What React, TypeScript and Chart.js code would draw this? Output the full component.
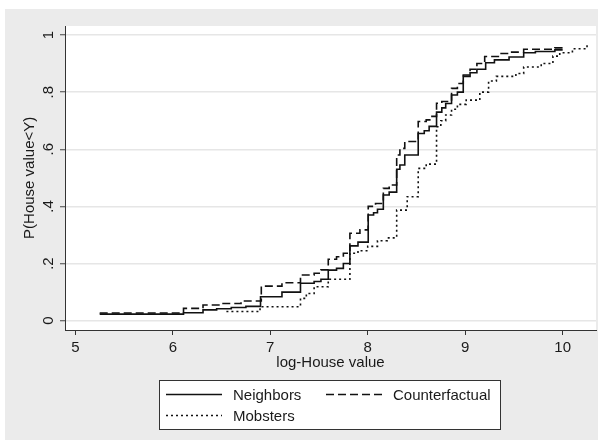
import React, { useEffect, useRef } from "react";
import { Chart, registerables } from "chart.js";

Chart.register(...registerables);

const xTicks = [5, 6, 7, 8, 9, 10];
const xTickLabels = ["5", "6", "7", "8", "9", "10"];
const yTicks = [0, 0.2, 0.4, 0.6, 0.8, 1];
const yTickLabels = ["0", ".2", ".4", ".6", ".8", "1"];
const seriesNames = ["Neighbors", "Counterfactual", "Mobsters"];
const xTitle = "log-House value";
const yTitle = "P(House value<Y)";

const neighborsX = [5.25, 6.11, 6.31, 6.45, 6.6, 6.75, 6.9, 7.12, 7.31, 7.45, 7.52, 7.595, 7.68, 7.75, 7.817, 7.9, 8.005, 8.06, 8.1, 8.16, 8.22, 8.297, 8.33, 8.38, 8.518, 8.58, 8.63, 8.706, 8.76, 8.8, 8.86, 8.92, 8.98, 9.05, 9.12, 9.21, 9.3, 9.45, 9.6, 9.72, 9.92, 10.0];
const neighborsY = [0.023, 0.028, 0.038, 0.042, 0.046, 0.05, 0.084, 0.1, 0.131, 0.137, 0.145, 0.177, 0.183, 0.2, 0.262, 0.275, 0.37, 0.378, 0.39, 0.44, 0.45, 0.53, 0.545, 0.58, 0.655, 0.665, 0.68, 0.73, 0.745, 0.76, 0.79, 0.8, 0.855, 0.868, 0.88, 0.903, 0.913, 0.923, 0.938, 0.942, 0.948, 0.948];

const counterX = [5.25, 6.11, 6.31, 6.5, 6.7, 6.908, 7.12, 7.31, 7.45, 7.52, 7.595, 7.68, 7.75, 7.817, 7.92, 8.005, 8.08, 8.16, 8.22, 8.297, 8.33, 8.38, 8.518, 8.6, 8.65, 8.706, 8.76, 8.86, 8.92, 8.98, 9.05, 9.12, 9.2, 9.35, 9.45, 9.6, 9.92, 10.0];
const counterY = [0.027, 0.043, 0.055, 0.06, 0.069, 0.121, 0.133, 0.16, 0.166, 0.178, 0.215, 0.224, 0.236, 0.306, 0.318, 0.4, 0.41, 0.463, 0.475, 0.58, 0.603, 0.627, 0.697, 0.703, 0.715, 0.761, 0.767, 0.813, 0.83, 0.86, 0.88, 0.9, 0.925, 0.935, 0.94, 0.95, 0.955, 0.955];

const mobX = [6.55, 6.895, 7.31, 7.37, 7.45, 7.595, 7.817, 7.9, 8.0, 8.1, 8.2, 8.297, 8.405, 8.518, 8.6, 8.706, 8.75, 8.8, 8.86, 8.92, 9.01, 9.15, 9.24, 9.32, 9.52, 9.6, 9.78, 9.9, 9.97, 10.1, 10.25];
const mobY = [0.032, 0.049, 0.078, 0.095, 0.119, 0.145, 0.236, 0.245, 0.26, 0.28, 0.29, 0.387, 0.434, 0.533, 0.548, 0.679, 0.7, 0.72, 0.74, 0.757, 0.772, 0.8, 0.839, 0.855, 0.865, 0.888, 0.9, 0.926, 0.938, 0.952, 0.964];

const FONT = '15px "Liberation Sans", Arial, Helvetica, sans-serif';
const INK = "#1a1a1a";
const LINE = "#111111";
const DASH = [8, 4];
const DOT = [2, 3];

const toPts = (xs: number[], ys: number[]) => xs.map((x, i) => ({ x, y: ys[i] }));

const decor = {
  id: "decor",
  beforeDraw(chart: any) {
    const { ctx, chartArea: a } = chart;
    ctx.save();
    ctx.fillStyle = "#ffffff";
    ctx.fillRect(0, 0, 604, 443);
    ctx.fillStyle = "#ebebeb";
    ctx.fillRect(5, 9, 593, 431);
    ctx.fillStyle = "#ffffff";
    ctx.fillRect(a.left, a.top, a.right - a.left, a.bottom - a.top);
    ctx.restore();
  },
  afterDraw(chart: any) {
    const { ctx, chartArea: a } = chart;
    const xs = chart.scales.x;
    const ys = chart.scales.y;
    ctx.save();
    ctx.fillStyle = INK;
    ctx.font = FONT;
    ctx.textAlign = "center";
    ctx.textBaseline = "alphabetic";
    xTicks.forEach((v, i) => ctx.fillText(xTickLabels[i], xs.getPixelForValue(v), 352));
    yTicks.forEach((v, i) => {
      ctx.save();
      ctx.translate(52.5, ys.getPixelForValue(v));
      ctx.rotate(-Math.PI / 2);
      ctx.fillText(yTickLabels[i], 0, 0);
      ctx.restore();
    });
    ctx.fillText(xTitle, (a.left + a.right) / 2, 367.3);
    ctx.save();
    ctx.translate(33.5, (ys.getPixelForValue(0) + ys.getPixelForValue(1)) / 2);
    ctx.rotate(-Math.PI / 2);
    ctx.fillText(yTitle, 0, 0);
    ctx.restore();

    // legend
    const lx = 159.5, ly = 380.5, lw = 341, lh = 49;
    ctx.fillStyle = "#ffffff";
    ctx.fillRect(lx, ly, lw, lh);
    ctx.strokeStyle = "#333333";
    ctx.lineWidth = 1;
    ctx.strokeRect(lx, ly, lw, lh);
    const items = [
      { name: seriesNames[0], x0: 166, x1: 222, y: 394.5, dash: [] as number[], tx: 233 },
      { name: seriesNames[1], x0: 326, x1: 383, y: 394.5, dash: DASH, tx: 393 },
      { name: seriesNames[2], x0: 166, x1: 222, y: 415.5, dash: DOT, tx: 233 },
    ];
    items.forEach((it) => {
      ctx.beginPath();
      ctx.setLineDash(it.dash);
      ctx.strokeStyle = LINE;
      ctx.lineWidth = 1.5;
      ctx.moveTo(it.x0, it.y);
      ctx.lineTo(it.x1, it.y);
      ctx.stroke();
      ctx.setLineDash([]);
      ctx.fillStyle = INK;
      ctx.textAlign = "left";
      ctx.fillText(it.name, it.tx, it.y + 5.4);
    });
    ctx.restore();
  },
};

export default function App() {
  const ref = useRef<HTMLCanvasElement | null>(null);
  useEffect(() => {
    if (!ref.current) return;
    const common = { pointRadius: 0, pointHoverRadius: 0, stepped: true, borderColor: LINE, borderWidth: 1.6, fill: false, tension: 0 };
    const chart = new Chart(ref.current, {
      type: "line",
      data: {
        datasets: [
          { ...common, label: seriesNames[0], data: toPts(neighborsX, neighborsY) },
          { ...common, label: seriesNames[1], data: toPts(counterX, counterY), borderDash: DASH },
          { ...common, label: seriesNames[2], data: toPts(mobX, mobY), borderDash: DOT },
        ],
      } as any,
      options: {
        responsive: false,
        animation: false,
        events: [],
        layout: { padding: { left: 60, right: 8, top: 26, bottom: 108 } },
        plugins: { legend: { display: false }, title: { display: false }, tooltip: { enabled: false } },
        scales: {
          x: {
            type: "linear",
            min: 4.894,
            max: 10.342,
            afterBuildTicks: (s: any) => { s.ticks = xTicks.map((v) => ({ value: v })); },
            ticks: { display: false },
            grid: { drawOnChartArea: false, drawTicks: true, tickLength: 5, tickColor: "#333333", tickWidth: 1 },
            border: { display: true, color: "#333333", width: 1 },
          },
          y: {
            type: "linear",
            min: -0.0326,
            max: 1.0315,
            afterBuildTicks: (s: any) => { s.ticks = yTicks.map((v) => ({ value: v })); },
            ticks: { display: false },
            grid: { color: "#e6e6e6", lineWidth: 1.5, drawTicks: true, tickLength: 5, tickColor: "#444444", tickWidth: 1 },
            border: { display: true, color: "#333333", width: 1 },
          },
        },
      } as any,
      plugins: [decor],
    });
    return () => chart.destroy();
  }, []);
  return (
    <div style={{ position: "absolute", left: 0, top: 0, width: 604, height: 443 }}>
      <canvas ref={ref} width={604} height={443} style={{ width: 604, height: 443, display: "block" }} />
    </div>
  );
}
